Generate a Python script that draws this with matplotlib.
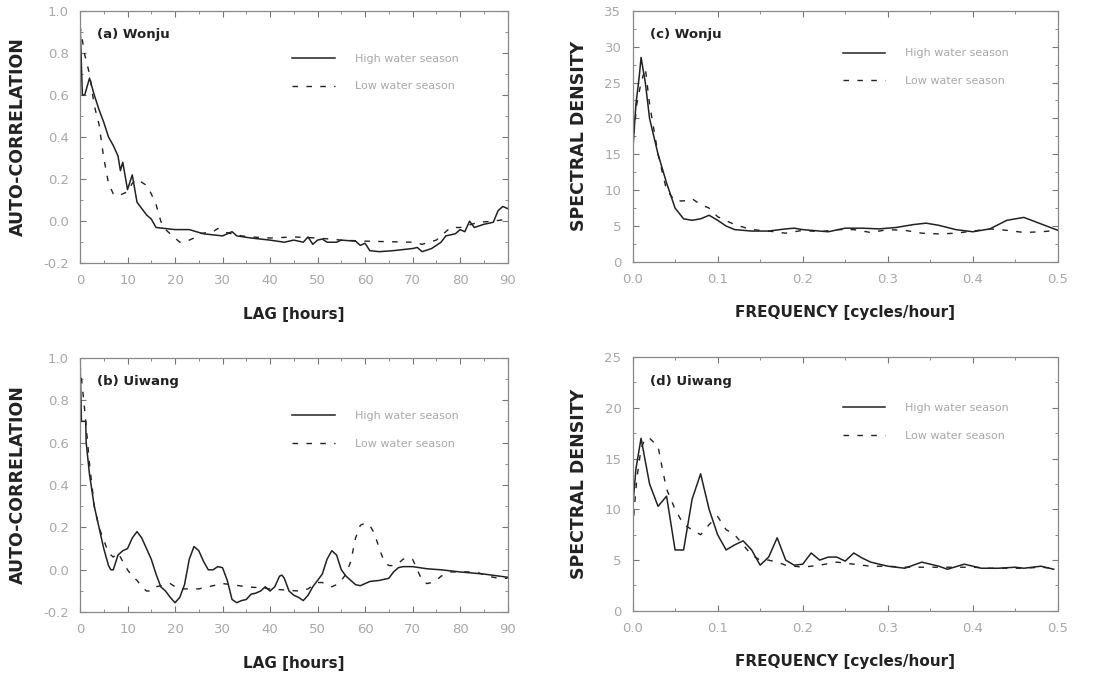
import matplotlib.pyplot as plt
from matplotlib.ticker import MultipleLocator

# (a) Wonju auto-correlation
lag_a_high = [0, 0.5, 1, 2, 3, 4, 5, 6, 7, 8, 8.5, 9, 10, 11, 12, 13, 14, 15, 16, 18, 20, 23,
              26, 30, 32, 33, 36, 40, 43, 45, 47, 48, 49, 50, 51, 52, 54, 55, 58, 59, 60, 61,
              63, 66, 68, 70, 71, 72, 74, 76, 77, 79, 80, 81, 82, 83, 85, 87, 88, 89, 90]
acf_a_high = [0.95, 0.6, 0.6, 0.68, 0.6, 0.53, 0.47, 0.4, 0.36, 0.31, 0.24, 0.28, 0.15, 0.22,
              0.09, 0.06, 0.03, 0.01, -0.03, -0.035, -0.04, -0.04, -0.06, -0.07, -0.05, -0.07,
              -0.08, -0.09, -0.1, -0.09, -0.1, -0.075, -0.11, -0.09, -0.085, -0.1, -0.1, -0.09,
              -0.095, -0.115, -0.105, -0.14, -0.145, -0.14, -0.135, -0.13, -0.125, -0.145,
              -0.13, -0.1, -0.07, -0.06, -0.04, -0.05, 0.0, -0.03, -0.015, -0.005, 0.05, 0.07,
              0.06]
lag_a_low = [0, 1, 2, 3, 4, 5, 6, 7, 8, 10, 11, 12, 14, 15, 16, 17, 18, 19, 21, 22, 24, 25,
             28, 29, 30, 34, 36, 40, 45, 50, 55, 60, 70, 72, 75, 78, 80, 84, 87, 90]
acf_a_low = [0.93, 0.79, 0.7, 0.55, 0.46, 0.3, 0.18, 0.13, 0.12, 0.14, 0.18, 0.2, 0.17, 0.13,
             0.08, 0.0, -0.04, -0.06, -0.1, -0.1, -0.08, -0.06, -0.05, -0.035, -0.05, -0.07,
             -0.075, -0.08, -0.075, -0.08, -0.09, -0.095, -0.1, -0.11, -0.09, -0.03, -0.03,
             -0.005, 0.0, 0.01]

# (b) Uiwang auto-correlation
lag_b_high = [0, 0.3, 1.2, 1.3, 2, 3, 4, 5, 6, 6.5, 7, 8, 9, 10, 11, 12, 13, 14, 15, 16, 17,
              18, 19, 20, 21, 22, 23, 24, 25, 26, 27, 28, 29, 30, 31, 32, 33, 34, 35, 36, 37,
              38, 39, 40, 41, 42, 42.5, 43, 44, 45, 46, 47, 48, 49, 50, 51, 52, 53, 54, 55,
              56, 57, 58, 59, 60, 61, 63, 65, 66, 67, 68, 70, 73, 76, 80, 85, 90]
acf_b_high = [1.0, 0.7, 0.7, 0.6, 0.45, 0.3, 0.2, 0.1, 0.02, 0.0, 0.0, 0.07, 0.09, 0.1, 0.15,
              0.18, 0.15, 0.1, 0.05, -0.02, -0.08, -0.1, -0.13, -0.155, -0.13, -0.07, 0.05,
              0.11, 0.09, 0.04, 0.0, 0.0, 0.015, 0.01, -0.05, -0.14, -0.155, -0.145, -0.14,
              -0.115, -0.11, -0.1, -0.08, -0.1, -0.08, -0.03, -0.025, -0.04, -0.1, -0.12,
              -0.13, -0.145, -0.12, -0.08, -0.05, -0.02, 0.05, 0.09, 0.07, 0.0, -0.03, -0.05,
              -0.07, -0.075, -0.065, -0.055, -0.05, -0.04, -0.01, 0.01, 0.015, 0.015, 0.005,
              0.0, -0.01, -0.02, -0.035]
lag_b_low = [0, 1, 2, 3, 4, 5, 6, 7, 8, 9, 10, 11, 12, 13, 14, 15, 16, 18, 19, 20, 21, 23, 25,
             27, 29, 30, 32, 35, 38, 40, 43, 46, 48, 50, 51, 52, 53, 54, 55, 56, 57, 58, 59,
             60, 61, 62, 63, 64, 65, 66, 67, 68, 69, 70, 71, 72, 73, 74, 75, 76, 78, 80, 82,
             84, 86, 88, 90]
acf_b_low = [0.97, 0.75, 0.5, 0.3, 0.2, 0.14, 0.08, 0.06, 0.08, 0.04, 0.0, -0.03, -0.05,
             -0.08, -0.1, -0.1, -0.08, -0.07, -0.065, -0.08, -0.09, -0.09, -0.09, -0.08,
             -0.07, -0.065, -0.07, -0.08, -0.085, -0.09, -0.095, -0.1, -0.09, -0.06, -0.06,
             -0.07, -0.08, -0.07, -0.05, -0.02, 0.04, 0.15, 0.21, 0.22, 0.21, 0.17, 0.1, 0.04,
             0.02, 0.02, 0.03, 0.05, 0.055, 0.05, 0.0, -0.05, -0.065, -0.06, -0.05, -0.03,
             -0.01, -0.01, -0.01, -0.015, -0.03, -0.04, -0.04]

# (c) Wonju spectral density
freq_c_high = [0, 0.004, 0.008, 0.01, 0.015, 0.02, 0.03, 0.04, 0.05, 0.06, 0.07, 0.08, 0.09,
               0.1, 0.11, 0.12, 0.14, 0.16, 0.18, 0.19, 0.2, 0.23, 0.25, 0.27, 0.29, 0.31,
               0.33, 0.345, 0.36, 0.38, 0.4, 0.42, 0.44, 0.46, 0.48, 0.5]
spec_c_high = [15, 22, 26, 28.5, 25, 20, 15, 11, 7.5, 6.0, 5.8, 6.0, 6.5, 5.8, 5.0, 4.5, 4.3,
               4.3, 4.6, 4.7, 4.5, 4.2, 4.7, 4.7, 4.6, 4.8, 5.2, 5.4, 5.1, 4.5, 4.2, 4.6, 5.8,
               6.2, 5.3, 4.4]
freq_c_low = [0, 0.005, 0.01, 0.015, 0.02, 0.03, 0.04, 0.05, 0.06, 0.07, 0.08, 0.09, 0.1,
              0.12, 0.14, 0.16, 0.18, 0.2, 0.22, 0.24, 0.26, 0.28, 0.3, 0.32, 0.34, 0.36,
              0.38, 0.4, 0.42, 0.44, 0.46, 0.48, 0.5]
spec_c_low = [16, 22, 25, 27, 22, 15, 10, 8.5, 8.5, 8.8, 8.0, 7.5, 6.3, 5.2, 4.5, 4.3, 4.0,
              4.4, 4.2, 4.5, 4.5, 4.1, 4.5, 4.4, 4.0, 3.9, 4.0, 4.3, 4.6, 4.4, 4.1, 4.2, 4.4]

# (d) Uiwang spectral density
freq_d_high = [0, 0.004, 0.008, 0.01, 0.02, 0.03, 0.04, 0.05, 0.06, 0.07, 0.08, 0.09, 0.1,
               0.11, 0.12, 0.13, 0.14, 0.15, 0.16, 0.17, 0.18, 0.19, 0.2, 0.21, 0.22, 0.23,
               0.24, 0.25, 0.26, 0.27, 0.28, 0.3, 0.32, 0.34, 0.36, 0.37, 0.39, 0.41, 0.43,
               0.45, 0.46, 0.48, 0.495]
spec_d_high = [10, 14, 16, 17, 12.5, 10.3, 11.3, 6, 6, 11, 13.5, 10, 7.5, 6.0, 6.5, 6.9, 6.0,
               4.5, 5.3, 7.2, 5.0, 4.5, 4.6, 5.7, 5.0, 5.3, 5.3, 4.9, 5.7, 5.2, 4.8, 4.4, 4.2,
               4.8, 4.4, 4.1, 4.6, 4.2, 4.2, 4.3, 4.2, 4.4, 4.1]
freq_d_low = [0, 0.005, 0.01, 0.015, 0.02, 0.03, 0.035, 0.04, 0.05, 0.06, 0.07, 0.08, 0.09,
              0.1, 0.11, 0.12, 0.13, 0.14, 0.15, 0.16, 0.17, 0.18, 0.2, 0.22, 0.24, 0.26,
              0.28, 0.3, 0.32, 0.34, 0.36, 0.38, 0.4, 0.42, 0.44, 0.46, 0.48, 0.495]
spec_d_low = [8, 13, 16, 17, 17, 16.2, 14, 12, 10, 8.5, 8.0, 7.5, 8.5, 9.3, 8.0, 7.5, 6.5,
              5.5, 5.0, 5.0, 4.8, 4.5, 4.3, 4.5, 4.8, 4.6, 4.4, 4.4, 4.3, 4.3, 4.3, 4.3, 4.3,
              4.2, 4.2, 4.2, 4.3, 4.2]

LINE = "#222222"
GREY = "#a8a8a8"
DASH = (0, (4, 6))

fig = plt.figure(figsize=(11.02, 6.75), dpi=100)

panels = [
    # rect, label, data, ylim, ystep, xlim, xstep, ylabel, xlabel, legend top
    ([0.0726, 0.610, 0.388, 0.374], "(a) Wonju", (lag_a_high, acf_a_high, lag_a_low, acf_a_low),
     (-0.2, 1.0), 0.2, (0, 90), 10, "AUTO-CORRELATION", "LAG [hours]", 0.83),
    ([0.0726, 0.093, 0.388, 0.377], "(b) Uiwang", (lag_b_high, acf_b_high, lag_b_low, acf_b_low),
     (-0.2, 1.0), 0.2, (0, 90), 10, "AUTO-CORRELATION", "LAG [hours]", 0.79),
    ([0.574, 0.612, 0.386, 0.372], "(c) Wonju", (freq_c_high, spec_c_high, freq_c_low, spec_c_low),
     (0, 35), 5, (0, 0.5), 0.1, "SPECTRAL DENSITY", "FREQUENCY [cycles/hour]", 0.85),
    ([0.574, 0.095, 0.386, 0.376], "(d) Uiwang", (freq_d_high, spec_d_high, freq_d_low, spec_d_low),
     (0, 25), 5, (0, 0.5), 0.1, "SPECTRAL DENSITY", "FREQUENCY [cycles/hour]", 0.82),
]

for rect, title, (xh, yh, xl, yl), ylim, ystep, xlim, xstep, ylabel, xlabel, legtop in panels:
    ax = fig.add_axes(rect)
    ax.plot(xh, yh, color=LINE, lw=1.1, label="High water season")
    ax.plot(xl, yl, color=LINE, lw=1.0, linestyle=DASH, label="Low water season")

    ax.set_xlim(*xlim)
    ax.set_ylim(*ylim)
    ax.xaxis.set_major_locator(MultipleLocator(xstep))
    ax.xaxis.set_minor_locator(MultipleLocator(xstep / 2))
    ax.yaxis.set_major_locator(MultipleLocator(ystep))
    ax.yaxis.set_minor_locator(MultipleLocator(ystep / 2))
    if xstep < 1:
        ax.xaxis.set_major_formatter(plt.FormatStrFormatter("%.1f"))
    else:
        ax.xaxis.set_major_formatter(plt.FormatStrFormatter("%d"))
    if ystep < 1:
        ax.yaxis.set_major_formatter(plt.FormatStrFormatter("%.1f"))
    else:
        ax.yaxis.set_major_formatter(plt.FormatStrFormatter("%d"))

    ax.tick_params(which="both", direction="in", top=True, right=True,
                   color="#777777", labelcolor=GREY, labelsize=9.5)
    ax.tick_params(which="major", length=4, pad=8)
    ax.tick_params(which="minor", length=2)
    for sp in ax.spines.values():
        sp.set_color("#888888")
        sp.set_linewidth(0.9)
        sp.set_linestyle((0, (1, 1)))

    ax.set_ylabel(ylabel, fontsize=12.5, fontweight="bold", color="#222222", labelpad=12)
    ax.set_xlabel(xlabel, fontsize=11, fontweight="bold", color="#222222", labelpad=14)

    ax.text(0.04, 0.905, title, transform=ax.transAxes, fontsize=9.5,
            fontweight="bold", color="#222222", va="center")

    leg = ax.legend(loc="upper right", bbox_to_anchor=(0.885, legtop), frameon=False,
                    borderpad=0, borderaxespad=0, handlelength=3.8, handletextpad=1.8,
                    labelspacing=1.6, fontsize=8)
    for t in leg.get_texts():
        t.set_color(GREY)

fig.savefig("out.png", dpi=100)
